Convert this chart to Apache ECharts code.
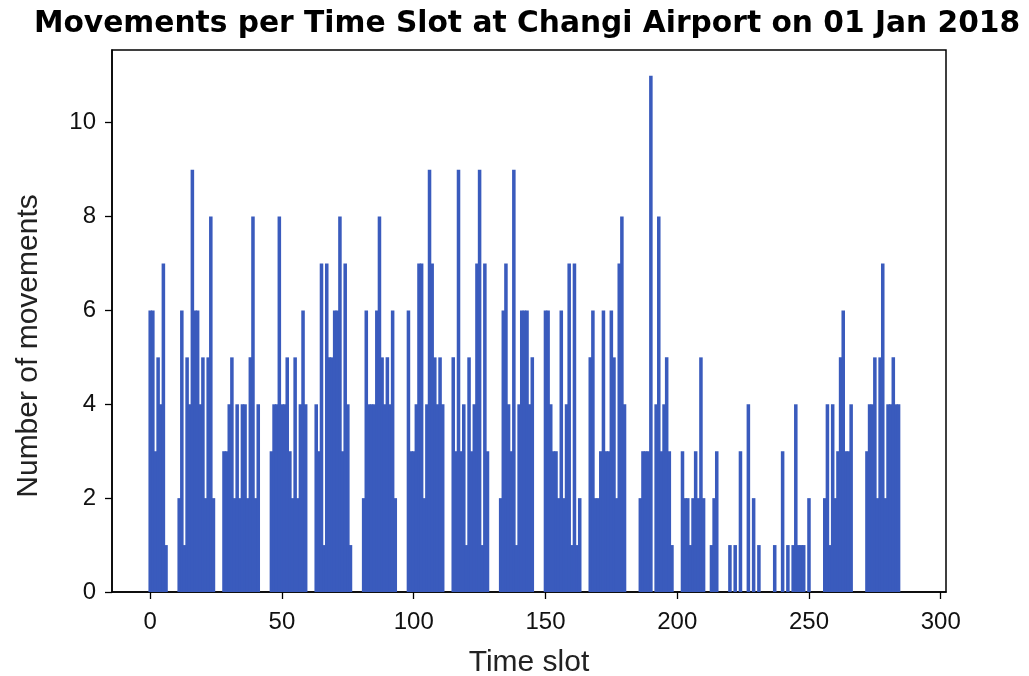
<!DOCTYPE html>
<html><head><meta charset="utf-8">
<script src="https://cdn.jsdelivr.net/npm/echarts@6/dist/echarts.min.js"></script>
<style>html,body{margin:0;padding:0;background:#fff}#c{width:1029px;height:676px}</style>
</head><body><div id="c"></div>
<script>
const chartTitle = 'Movements per Time Slot at Changi Airport on 01 Jan 2018';
const xName = 'Time slot';
const yName = 'Number of movements';
const xTicks = [0, 50, 100, 150, 200, 250, 300];
const yTicks = [0, 2, 4, 6, 8, 10];
// movements per time slot, slot index = position in array
const movements = [
  6,6,3,5,4,7,1,0,0,0,0,2,
  6,1,5,4,9,6,6,4,5,2,5,8,
  2,0,0,0,3,3,4,5,2,4,2,4,
  4,2,5,8,2,4,0,0,0,0,3,4,
  4,8,4,4,5,3,2,5,2,4,6,4,
  0,0,0,4,3,7,1,7,5,5,6,6,
  8,3,7,4,1,0,0,0,0,2,6,4,
  4,4,6,8,5,4,5,4,6,2,0,0,
  0,0,6,3,3,4,7,7,2,4,9,7,
  5,4,5,4,0,0,0,5,3,9,3,4,
  1,5,3,4,7,9,1,7,3,0,0,0,
  0,2,6,7,4,3,9,1,4,6,6,6,
  4,5,0,0,0,0,6,6,4,3,3,2,
  6,2,4,7,1,7,1,2,0,0,0,5,
  6,2,2,3,6,3,3,6,5,2,7,8,
  4,0,0,0,0,0,2,3,3,3,11,0,
  4,8,3,4,5,3,1,0,0,0,3,2,
  2,1,2,3,2,5,2,0,0,1,2,3,
  0,0,0,0,1,0,1,0,3,0,0,4,
  0,2,0,1,0,0,0,0,0,1,0,0,
  3,0,1,0,1,4,1,1,1,0,2,0,
  0,0,0,0,2,4,1,4,2,3,5,6,
  3,3,4,0,0,0,0,0,3,4,4,5,
  2,5,7,2,4,4,5,4,4,0,0,0
];
const data = movements.map((v, i) => [i, v]);
const chart = echarts.init(document.getElementById('c'), null, {renderer: 'canvas'});
chart.setOption({
  animation: false,
  title: {
    text: chartTitle, left: 522, top: 4, textAlign: 'center',
    textStyle: {fontFamily: 'DejaVu Sans', fontWeight: 'bold', fontSize: 29.7, color: '#000'}
  },
  grid: {left: 112, right: 83, top: 50, bottom: 84, show: true, borderColor: '#000', borderWidth: 1.5,
         backgroundColor: 'transparent', outerBoundsMode: 'none', containLabel: false},
  xAxis: {
    type: 'value', min: -14.5, max: 302,
    name: xName, nameLocation: 'middle', nameGap: 56,
    nameTextStyle: {fontFamily: 'Liberation Sans', fontSize: 30, color: '#222'},
    axisLine: {show: true, onZero: false, lineStyle: {color: '#000', width: 1.5}},
    axisTick: {show: true, inside: false, length: 7, lineStyle: {color: '#000', width: 1.3}, customValues: xTicks},
    axisLabel: {customValues: xTicks, margin: 18, fontFamily: 'Liberation Sans', fontSize: 24, color: '#111'},
    splitLine: {show: false}
  },
  yAxis: {
    type: 'value', min: 0, max: 11.55,
    name: yName, nameLocation: 'middle', nameGap: 68,
    nameTextStyle: {fontFamily: 'Liberation Sans', fontSize: 30, color: '#222', padding: [0, 50, 0, 0]},
    axisLine: {show: true, onZero: false, lineStyle: {color: '#000', width: 1.5}},
    axisTick: {show: true, inside: false, length: 7, lineStyle: {color: '#000', width: 1.3}, customValues: yTicks},
    axisLabel: {customValues: yTicks, margin: 16, fontFamily: 'Liberation Sans', fontSize: 24, color: '#111'},
    splitLine: {show: false}
  },
  series: [{
    type: 'custom',
    data: data,
    encode: {x: 0, y: 1},
    clip: true,
    renderItem: function (params, api) {
      const x = api.value(0), y = api.value(1);
      if (!y) return null;
      const p0 = api.coord([x - 0.5, y]);
      const p1 = api.coord([x + 0.5, 0]);
      return {
        type: 'rect',
        shape: {x: p0[0] - 0.45, y: p0[1], width: p1[0] - p0[0] + 0.9, height: p1[1] - p0[1]},
        style: {fill: '#3a5bbd'}
      };
    }
  }]
});
</script>
</body></html>
